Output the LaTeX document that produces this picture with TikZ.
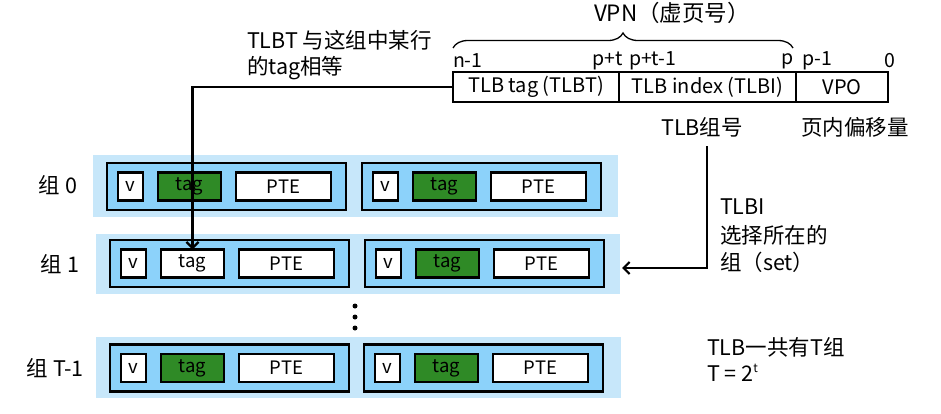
\documentclass[tikz,border=0pt]{standalone}
\usepackage{fontspec}
\setmainfont{Noto Sans CJK SC}
\usetikzlibrary{arrows.meta,decorations.pathreplacing}
\definecolor{bgblue}{RGB}{199,231,250}
\definecolor{entryblue}{RGB}{140,210,250}
\definecolor{taggreen}{RGB}{47,138,38}
\tikzset{
  lab/.style={font=\fontsize{21.5}{25}\selectfont, inner sep=0pt, outer sep=0pt},
  bitlab/.style={font=\fontsize{19.5}{22}\selectfont, inner sep=0pt, outer sep=0pt},
  seg/.style={draw=black, line width=1.4pt, fill=white, minimum height=30, inner sep=0pt, outer sep=0pt, anchor=west, font=\fontsize{20}{24}\selectfont},
  bgbox/.style={fill=bgblue, draw=none, inner sep=0pt, outer sep=0pt, anchor=west},
  entrybox/.style={fill=entryblue, draw=black, line width=2.6pt, minimum width=239, minimum height=47, inner sep=0pt, outer sep=0pt, anchor=west},
  cell/.style={draw=black, line width=2.5pt, fill=white, minimum height=28, inner sep=0pt, outer sep=0pt, anchor=west, font=\fontsize{18.5}{20}\selectfont},
  arr/.style={line width=2.2pt, -{Straight Barb[length=6pt,width=12pt,line width=2.2pt]}},
}
\newcommand\tlbentry[4]{%
  \node[entrybox] (#1) at (#2,#3) {};
  \node[cell, minimum width=25] (#1-v) at (#2+11,#3) {v};
  \node[cell, minimum width=63, fill=#4] (#1-t) at (#2+51,#3) {tag};
  \node[cell, minimum width=95] (#1-p) at (#2+129,#3) {PTE};
}
\begin{document}
\begin{tikzpicture}[x=1pt,y=-1pt]
\useasboundingbox (0,0) rectangle (941,413);

% address bar
\node[seg, minimum width=166] (s1) at (453,87) {TLB tag (TLBT)};
\node[seg, minimum width=177] (s2) at (619,87) {TLB index (TLBI)};
\node[seg, minimum width=92] (s3) at (796,87) {VPO};

\node[lab, font=\fontsize{22.5}{26}\selectfont] (vpn) at (672,13) {VPN（虚页号）};
\coordinate (bl) at (453,48);
\coordinate (br) at (793,48);
\draw[line width=1.3pt, decorate, decoration={brace, amplitude=15pt}] (bl) -- (br);

\node[bitlab, anchor=west] (bn1) at (453,61) {n-1};
\node[bitlab, anchor=east] (bpt) at (623,61) {p+t};
\node[bitlab, anchor=west] (bpt1) at (629,61) {p+t-1};
\node[bitlab] (bp) at (788,61) {p};
\node[bitlab, anchor=west] (bp1) at (802,61) {p-1};
\node[bitlab] (b0) at (890,61) {0};

\node[lab] (grpno) at (702,127) {TLB组号};
\node[lab] (offs) at (855,127) {页内偏移量};

\node[lab, anchor=west] (tl1) at (247,40) {TLBT 与这组中某行};
\node[lab, anchor=west] (tl2) at (247,68) {的tag相等};

% groups
\node[bgbox, minimum width=525, minimum height=62] (g0bg) at (93,186) {};
\node[bgbox, minimum width=524, minimum height=60] (g1bg) at (96,264) {};
\node[bgbox, minimum width=525, minimum height=61] (gtbg) at (96,367.5) {};

\tlbentry{g0a}{107}{186.5}{taggreen}
\tlbentry{g0b}{362}{186.5}{taggreen}
\tlbentry{g1a}{110}{263.5}{white}
\tlbentry{g1b}{365}{263.5}{taggreen}
\tlbentry{gta}{110}{368}{taggreen}
\tlbentry{gtb}{364}{368}{taggreen}

\node[lab] (l0) at (58,185) {组 0};
\node[lab] (l1) at (60,264) {组 1};
\node[lab, anchor=west] (lt) at (27,368) {组 T-1};

\fill (355,306) circle (2.5pt);
\fill (355,317) circle (2.5pt);
\fill (355,328) circle (2.5pt);

% arrows
\draw[arr] (s1.west) -| (g1a-t.north);
\coordinate (idxtop) at (707,146);
\coordinate (idxtip) at (622,268);
\draw[arr] (idxtop) |- (idxtip);

\node[lab, anchor=west] (r1) at (720,207) {TLBI};
\node[lab, anchor=west] (r2) at (720,235) {选择所在的};
\node[lab, anchor=west] (r3) at (720,262) {组（set）};

\node[lab, anchor=west] (t1) at (707,347) {TLB一共有T组};
\node[lab, anchor=west] (t2) at (707,373) {T = 2\raisebox{0.75ex}{\fontsize{12}{12}\selectfont t}};
\end{tikzpicture}
\end{document}
